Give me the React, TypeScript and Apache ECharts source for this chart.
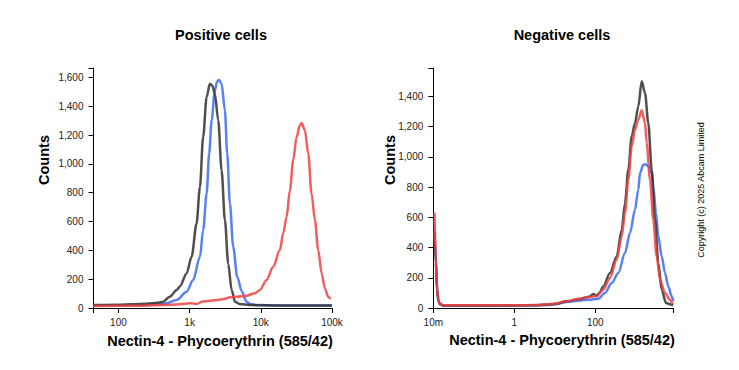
import React, { useEffect, useRef } from "react";
import * as echarts from "echarts";

const posTitle = "Positive cells";
const negTitle = "Negative cells";
const xName = "Nectin-4 - Phycoerythrin (585/42)";
const yName = "Counts";
const copyright = "Copyright (c) 2025 Abcam Limited";

// x values are log10 of the fluorescence intensity
const posXMin = 1.65;
const posXMax = 5;
const posXTicks = [1.65, 2, 3, 4, 5];
const posXLabelValues = [2, 3, 4, 5];
const posXLabels: Record<string, string> = { "2": "100", "3": "1k", "4": "10k", "5": "100k" };
const posYMax = 1665;
const posYTicks = [0, 200, 400, 600, 800, 1000, 1200, 1400, 1600, 1665];
const posYLabelValues = [0, 200, 400, 600, 800, 1000, 1200, 1400, 1600];

const negXMin = -2;
const negXMax = 3.926;
const negXTicks = [-2, 0, 2, 3.926];
const negXLabelValues = [-2, 0, 2];
const negXLabels: Record<string, string> = { "-2": "10m", "0": "1", "2": "100" };
const negYMax = 1588;
const negYTicks = [0, 200, 400, 600, 800, 1000, 1200, 1400, 1588];
const negYLabelValues = [0, 200, 400, 600, 800, 1000, 1200, 1400];

const posGray = [
  [1.65, 20], [2.0, 22], [2.2, 26], [2.4, 30], [2.55, 36], [2.63, 44], [2.72, 78], [2.82, 125],
  [2.864, 150], [2.958, 240], [3.028, 355], [3.098, 586], [3.145, 840], [3.19, 1186], [3.239, 1463],
  [3.285, 1556], [3.32, 1540], [3.355, 1487], [3.402, 1302], [3.449, 956], [3.496, 609], [3.542, 309],
  [3.59, 125], [3.637, 44], [3.7, 28], [3.87, 20], [4.2, 18], [4.6, 17], [5.0, 17],
];
const posBlue = [
  [1.65, 18], [2.3, 20], [2.55, 24], [2.677, 33], [2.817, 55], [2.958, 113], [3.05, 194], [3.145, 355],
  [3.19, 540], [3.239, 794], [3.275, 1071], [3.309, 1302], [3.355, 1510], [3.385, 1570], [3.411, 1584],
  [3.449, 1556], [3.496, 1371], [3.528, 1071], [3.566, 725], [3.612, 425], [3.669, 217], [3.73, 118],
  [3.8, 44], [3.85, 28], [3.95, 20], [4.3, 18], [5.0, 17],
];
const posRed = [
  [1.65, 14], [2.2, 16], [2.625, 20], [2.85, 26], [3.004, 33], [3.098, 28], [3.187, 45], [3.28, 50],
  [3.379, 55], [3.5, 64], [3.566, 75], [3.66, 78], [3.8, 85], [3.917, 102], [3.987, 125], [4.081, 194],
  [4.174, 286], [4.268, 402], [4.315, 517], [4.362, 632], [4.409, 817], [4.455, 1025], [4.503, 1186],
  [4.549, 1267], [4.573, 1283], [4.619, 1233], [4.666, 1071], [4.713, 794], [4.76, 609], [4.806, 402],
  [4.854, 240], [4.9, 136], [4.947, 78], [4.98, 62],
];

const negGray = [
  [-1.97, 505], [-1.935, 300], [-1.905, 120], [-1.875, 50], [-1.835, 25], [-1.75, 16], [-1.0, 16],
  [0, 17], [0.5, 19], [0.8, 22], [1.0, 26], [1.294, 44], [1.62, 60], [1.85, 75], [1.95, 92], [2.0, 86],
  [2.035, 80], [2.1, 100], [2.197, 143], [2.363, 232], [2.528, 341], [2.652, 518], [2.733, 695],
  [2.815, 915], [2.899, 1136], [2.98, 1224], [3.062, 1334], [3.146, 1500], [3.227, 1423], [3.309, 1224],
  [3.393, 915], [3.474, 584], [3.556, 298], [3.64, 121], [3.746, 33], [3.886, 22], [3.926, 20],
];
const negBlue = [
  [-1.97, 500], [-1.935, 300], [-1.905, 120], [-1.875, 50], [-1.835, 25], [-1.75, 15], [-1.0, 15],
  [0, 16], [0.5, 18], [0.8, 20], [1.0, 24], [1.294, 40], [1.62, 50], [1.85, 55], [2.074, 62], [2.24, 99],
  [2.405, 165], [2.568, 232], [2.733, 364], [2.857, 496], [2.98, 650], [3.062, 783], [3.104, 893],
  [3.185, 948], [3.25, 950], [3.309, 937], [3.393, 893], [3.432, 805], [3.499, 629], [3.556, 474],
  [3.64, 341], [3.721, 232], [3.802, 143], [3.886, 77], [3.926, 44],
];
const negRed = [
  [-1.97, 630], [-1.94, 330], [-1.905, 120], [-1.875, 50], [-1.835, 25], [-1.75, 18], [-1.0, 18],
  [0, 18], [0.5, 20], [0.8, 24], [1.0, 28], [1.294, 46], [1.62, 62], [1.85, 72], [2.035, 80],
  [2.197, 121], [2.363, 199], [2.528, 320], [2.652, 474], [2.733, 629], [2.815, 849], [2.899, 1070],
  [2.98, 1180], [3.062, 1246], [3.146, 1308], [3.227, 1224], [3.269, 1092], [3.351, 849], [3.432, 584],
  [3.516, 341], [3.598, 187], [3.721, 99], [3.844, 55], [3.911, 22],
];

const FONT = "'Liberation Sans', Arial, Helvetica, sans-serif";
const GRAY = "rgba(55,55,55,0.88)";
const BLUE = "rgba(70,115,242,0.9)";
const RED = "rgba(238,66,66,0.85)";

function xAxis(gridIndex: number, min: number, max: number, ticks: number[], labelVals: number[], labels: Record<string, string>) {
  return {
    type: "value",
    gridIndex,
    min,
    max,
    splitLine: { show: false },
    axisLine: { show: true, onZero: false, lineStyle: { color: "#000", width: 1 } },
    axisTick: { show: true, length: 5, lineStyle: { color: "#000" }, customValues: ticks },
    axisLabel: {
      customValues: labelVals,
      margin: 9,
      fontSize: 10,
      fontFamily: FONT,
      color: "#222",
      formatter: (v: number) => labels[String(Math.round(v))] ?? "",
    },
  };
}

function yAxis(gridIndex: number, max: number, ticks: number[], labelVals: number[]) {
  return {
    type: "value",
    gridIndex,
    min: 0,
    max,
    splitLine: { show: false },
    axisLine: { show: true, onZero: false, lineStyle: { color: "#000", width: 1 } },
    axisTick: { show: true, length: 5, lineStyle: { color: "#000" }, customValues: ticks },
    axisLabel: {
      customValues: labelVals,
      margin: 10,
      fontSize: 10,
      fontFamily: FONT,
      color: "#222",
      formatter: (v: number) => v.toLocaleString("en-US"),
    },
  };
}

function line(data: number[][], color: string, idx: number) {
  return {
    type: "line",
    xAxisIndex: idx,
    yAxisIndex: idx,
    data,
    showSymbol: false,
    symbol: "none",
    smooth: 0.3,
    smoothMonotone: "x",
    lineStyle: { color, width: 2.5 },
    itemStyle: { color },
    silent: true,
  };
}

function boldText(text: string, x: number, y: number, rotation = 0) {
  return {
    type: "text",
    x,
    y,
    rotation,
    style: {
      text,
      fontSize: 14.5,
      fontWeight: "bold",
      fontFamily: FONT,
      fill: "#000",
      textAlign: "center",
      textVerticalAlign: "middle",
    },
  };
}

export default function App() {
  const ref = useRef<HTMLDivElement>(null);
  useEffect(() => {
    if (!ref.current) return;
    const chart = echarts.init(ref.current, null, { renderer: "svg" });
    chart.setOption({
      animation: false,
      backgroundColor: "#fff",
      grid: [
        { left: 93.5, top: 68, width: 238.5, height: 240 },
        { left: 433.3, top: 68, width: 240, height: 240 },
      ],
      xAxis: [
        xAxis(0, posXMin, posXMax, posXTicks, posXLabelValues, posXLabels),
        xAxis(1, negXMin, negXMax, negXTicks, negXLabelValues, negXLabels),
      ],
      yAxis: [
        yAxis(0, posYMax, posYTicks, posYLabelValues),
        yAxis(1, negYMax, negYTicks, negYLabelValues),
      ],
      series: [
        line(posBlue, BLUE, 0),
        line(posGray, GRAY, 0),
        line(posRed, RED, 0),
        line(negBlue, BLUE, 1),
        line(negGray, GRAY, 1),
        line(negRed, RED, 1),
      ],
      graphic: [
        boldText(posTitle, 221, 35),
        boldText(negTitle, 562, 35),
        boldText(yName, 44, 160, Math.PI / 2),
        boldText(yName, 390, 160, Math.PI / 2),
        boldText(xName, 220, 341),
        boldText(xName, 562, 340),
        {
          type: "text",
          x: 701,
          y: 190,
          rotation: Math.PI / 2,
          style: {
            text: copyright,
            fontSize: 9,
            fontFamily: FONT,
            fill: "#000",
            textAlign: "center",
            textVerticalAlign: "middle",
          },
        },
      ],
    });
    return () => chart.dispose();
  }, []);
  return (
    <div
      ref={ref}
      style={{ position: "fixed", left: 0, top: 0, width: 739, height: 370, background: "#fff" }}
    />
  );
}
